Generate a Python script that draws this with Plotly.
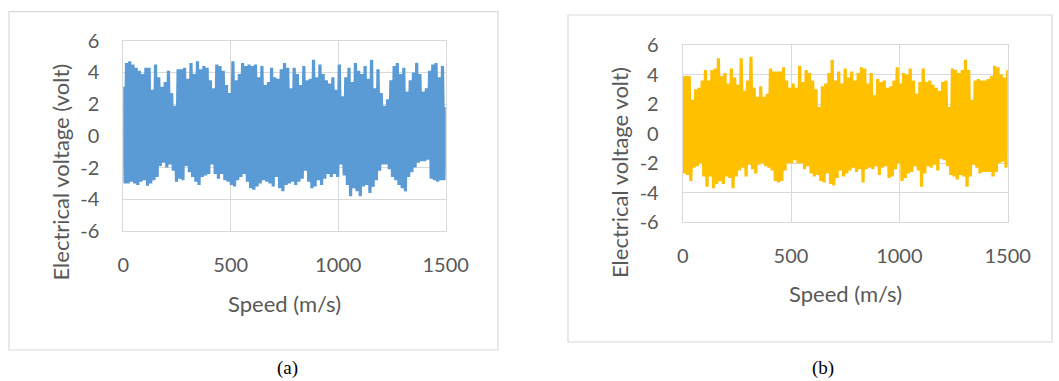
import plotly.graph_objects as go

# ---------------- data ----------------
# sample grid for the peak (upper) readings; troughs are read half a step later
speed_peaks = list(range(0, 1501, 15))
speed_troughs = [s + 7.5 for s in speed_peaks[:-1]]

# (a) upper envelope peaks (volt)
a_upper = [3.1, 4.6, 4.7, 4.5, 4.3, 4.1, 3.9, 4.3, 4.3, 2.9,
           4.5, 3.7, 3.1, 3.4, 4.1, 2.7, 1.9, 4.2, 4.2, 4.3,
           3.6, 4.6, 3.9, 4.7, 4.2, 4.4, 4.3, 3.5, 3.0, 4.5,
           4.4, 4.1, 3.2, 2.7, 4.7, 3.5, 3.9, 4.6, 4.4, 4.5,
           4.4, 4.5, 3.7, 4.4, 3.2, 3.4, 4.3, 3.7, 3.6, 4.2,
           4.6, 4.3, 3.0, 4.3, 3.9,
           3.2, 4.4, 3.5, 3.6, 4.8, 3.7, 4.5, 3.9, 3.5, 3.3,
           3.7, 2.9, 4.5, 2.5, 3.7, 4.3, 3.4, 4.6, 4.1, 3.9,
           4.4, 3.6, 4.8, 3.0, 4.2, 2.7, 1.9, 2.3, 3.5, 4.4,
           4.6, 3.9, 4.3, 2.8, 3.5, 4.0, 4.6, 3.9, 2.8, 3.0,
           4.1, 4.5, 4.6, 3.7, 4.4, 1.8]
# (a) lower envelope troughs (volt)
a_lower = [-3.0, -3.0, -2.9, -3.0, -3.1, -2.9, -2.8, -3.15, -3.0, -2.8,
           -2.6, -1.9, -1.7, -2.0, -1.8, -2.2, -2.9, -2.7, -2.8, -1.9,
           -2.3, -2.6, -2.9, -3.1, -2.6, -2.5, -2.4, -1.8, -2.4, -2.7,
           -2.4, -2.8, -2.9, -3.1, -3.2, -2.8, -2.6, -2.4, -2.9, -3.3,
           -3.4, -3.2, -3.0, -2.8, -2.9, -3.0, -3.2, -2.6, -3.3, -3.5,
           -3.1, -3.0, -2.9, -3.1, -2.9,
           -2.7, -2.2, -2.9, -3.3, -3.2, -2.8, -3.1, -2.7, -2.4, -2.6,
           -2.4, -2.6, -1.8, -2.5, -3.1, -3.8, -3.3, -3.5, -3.8, -3.2,
           -3.1, -3.6, -3.2, -2.8, -2.2, -1.8, -1.8, -2.1, -2.6, -2.8,
           -3.1, -3.3, -3.5, -2.6, -2.3, -2.0, -1.7, -1.6, -1.6, -1.5,
           -2.7, -2.8, -2.9, -2.8, -2.8]

# (b) upper envelope peaks (volt)
b_upper = [3.9, 3.9, 3.9, 2.3, 3.0, 3.1, 3.6, 4.3, 3.6, 4.3,
           4.4, 5.1, 3.9, 4.1, 3.4, 4.4, 3.8, 3.3, 5.1, 2.9,
           3.6, 5.2, 3.1, 2.5, 3.2, 2.5, 2.7, 4.4, 4.2, 4.2,
           4.2, 4.5, 3.6, 3.1, 3.4, 3.1, 4.6, 3.5, 4.3, 4.1,
           3.6, 3.0, 1.8, 3.2, 3.4, 4.1, 5.0, 3.6, 4.2, 3.4,
           4.4, 3.8,
           4.2, 3.6, 4.1, 4.5, 4.4, 3.4, 4.1, 2.6, 3.7, 3.5,
           3.6, 3.1, 3.2, 3.6, 4.5, 3.4, 4.1, 4.0, 4.4, 3.6,
           2.7, 3.5, 4.4, 3.5, 3.6, 3.3, 3.1, 2.9, 3.5, 3.6,
           1.8, 4.4, 4.3, 4.1, 4.3, 5.0, 4.3, 2.3, 3.6, 3.7,
           3.6, 3.6, 3.7, 3.9, 4.6, 4.5, 4.0, 3.8, 4.3]
# (b) lower envelope troughs (volt)
b_lower = [-2.7, -2.8, -3.2, -2.3, -2.2, -2.0, -2.9, -3.6, -2.9, -3.7,
           -3.4, -3.2, -3.4, -2.9, -3.0, -3.7, -2.9, -2.5, -2.3, -2.9,
           -2.1, -2.4, -2.7, -2.1, -2.0, -2.2, -2.3, -2.5, -3.2, -3.3,
           -3.2, -2.5, -2.0, -2.0, -1.8, -2.0, -2.0, -2.4, -2.2, -2.7,
           -2.9, -2.8, -3.2, -3.3, -2.7, -3.4, -3.5, -3.0, -2.5, -2.9,
           -2.7, -2.5,
           -2.3, -2.6, -2.4, -3.3, -2.4, -2.3, -2.4, -2.2, -2.8, -2.3,
           -2.2, -3.0, -2.9, -2.4, -2.0, -3.2, -3.0, -2.7, -2.6, -2.2,
           -2.5, -3.6, -2.7, -2.2, -2.3, -2.1, -2.5, -1.7, -1.8, -2.2,
           -2.8, -2.9, -3.1, -2.8, -2.9, -3.6, -2.9, -2.1, -2.3, -2.7,
           -2.6, -2.6, -2.6, -2.9, -2.6, -2.0, -1.9, -2.3]

x_ticks = [0, 500, 1000, 1500]
y_ticks = [-6, -4, -2, 0, 2, 4, 6]
y_tick_text = ["-6", "-4", "-2", "0", "2", "4", "6"]
x_title = "Speed (m/s)"
y_title_a = "Electrical voltage (volt)"
y_title_b = "Electrical voltage volt)"
captions = ["(a)", "(b)"]


def interleave(xu, yu, xl, yl):
    xs, ys = [], []
    for i in range(len(xu)):
        xs.append(xu[i]); ys.append(yu[i])
        if i < len(xl):
            xs.append(xl[i]); ys.append(yl[i])
    return xs, ys


W, H = 1059, 381
fig = go.Figure()

xa, ya = interleave(speed_peaks, a_upper, speed_troughs, a_lower)
xb, yb = interleave(speed_peaks, b_upper, speed_troughs, b_lower)

fig.add_trace(go.Scatter(x=xa, y=ya, mode="lines", xaxis="x", yaxis="y",
                         line=dict(color="#5b9bd5", width=3.2), showlegend=False,
                         hoverinfo="skip"))
fig.add_trace(go.Scatter(x=xb, y=yb, mode="lines", xaxis="x2", yaxis="y2",
                         line=dict(color="#ffc000", width=3.2), showlegend=False,
                         hoverinfo="skip"))

TXT = "#595959"
GRID = "#d9d9d9"
FONT = "Lato"


def px_x(p):
    return p / W


def px_y(p):
    return 1 - p / H


def xaxis_cfg(x0, x1, anchor):
    return dict(domain=[px_x(x0), px_x(x1)], anchor=anchor, range=[0, 1500],
                tickmode="array", tickvals=x_ticks, showgrid=True, gridcolor=GRID,
                gridwidth=1, zeroline=False, showline=True, linecolor=GRID,
                linewidth=1, mirror=True, ticks="", ticklabelstandoff=16,
                automargin=False, fixedrange=True,
                tickfont=dict(family=FONT, size=20, color=TXT))


def yaxis_cfg(y_top, y_bot, anchor):
    return dict(domain=[px_y(y_bot), px_y(y_top)], anchor=anchor, range=[-6, 6],
                tickmode="array", tickvals=y_ticks, ticktext=y_tick_text,
                showgrid=True, gridcolor=GRID,
                gridwidth=1, zeroline=False, showline=True, linecolor=GRID,
                linewidth=1, mirror=True, ticks="", ticklabelstandoff=19,
                automargin=False, fixedrange=True,
                tickfont=dict(family=FONT, size=20, color=TXT))


fig.update_layout(
    template="none",
    width=W, height=H, autosize=False,
    margin=dict(l=0, r=0, t=0, b=0, pad=0, autoexpand=False),
    paper_bgcolor="white", plot_bgcolor="white",
    font=dict(family=FONT, color=TXT),
    showlegend=False,
    xaxis=xaxis_cfg(123.3, 445.7, "y"),
    yaxis=yaxis_cfg(40.7, 231, "x"),
    xaxis2=xaxis_cfg(682.7, 1007.7, "y2"),
    yaxis2=yaxis_cfg(45, 222.3, "x2"),
)

# outer chart boxes
for (x0, y0, x1, y1) in [(9, 11.7, 498, 350), (568, 15, 1052, 342)]:
    fig.add_shape(type="rect", xref="paper", yref="paper",
                  x0=px_x(x0), x1=px_x(x1), y0=px_y(y1), y1=px_y(y0),
                  line=dict(color=GRID, width=1.2), fillcolor="rgba(0,0,0,0)")


def label(text, x, y, size, color, family, angle=0):
    fig.add_annotation(text=text, xref="paper", yref="paper", x=px_x(x), y=px_y(y),
                       xanchor="center", yanchor="middle", showarrow=False,
                       textangle=angle, font=dict(family=family, size=size, color=color))


# axis titles
label(x_title, 284.5, 303, 22, TXT, FONT)
label(x_title, 845, 293, 22, TXT, FONT)
label(y_title_a, 60, 172.5, 22, TXT, FONT, -90)
label(y_title_b, 619, 173, 22, TXT, FONT, -90)

# captions
for txt, cx in zip(captions, [287, 823]):
    label(txt, cx, 368, 19, "black", "Liberation Serif")

fig.write_html("out.html", config={"displayModeBar": False, "staticPlot": True},
               post_script="document.body.style.margin='0px';")
